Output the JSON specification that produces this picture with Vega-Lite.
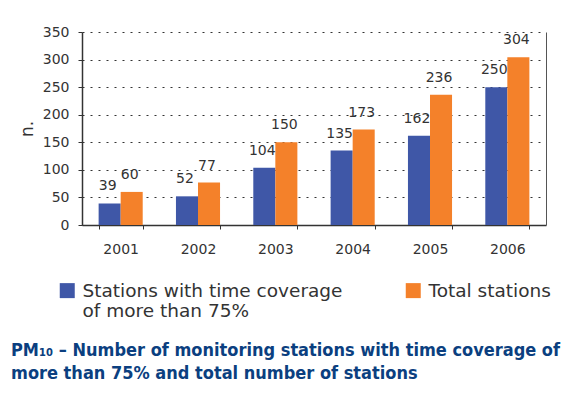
{
  "$schema": "https://vega.github.io/schema/vega-lite/v6.json",
  "width": 464,
  "height": 193,
  "autosize": {"type": "none"},
  "padding": {"left": 82, "top": 32, "right": 21, "bottom": 173},
  "background": "white",
  "config": {"view": {"stroke": null}, "font": "DejaVu Sans"},
  "data": {"values": [
    {"year": "2001", "series": "Stations with time coverage of more than 75%", "value": 39},
    {"year": "2001", "series": "Total stations", "value": 60},
    {"year": "2002", "series": "Stations with time coverage of more than 75%", "value": 52},
    {"year": "2002", "series": "Total stations", "value": 77},
    {"year": "2003", "series": "Stations with time coverage of more than 75%", "value": 104},
    {"year": "2003", "series": "Total stations", "value": 150},
    {"year": "2004", "series": "Stations with time coverage of more than 75%", "value": 135},
    {"year": "2004", "series": "Total stations", "value": 173},
    {"year": "2005", "series": "Stations with time coverage of more than 75%", "value": 162},
    {"year": "2005", "series": "Total stations", "value": 236},
    {"year": "2006", "series": "Stations with time coverage of more than 75%", "value": 250},
    {"year": "2006", "series": "Total stations", "value": 304}
  ]},
  "title": {
    "text": ["PM₁₀ – Number of monitoring stations with time coverage of", "more than 75% and total number of stations"],
    "orient": "bottom",
    "anchor": "start",
    "frame": "group",
    "font": "DejaVu Sans Condensed, Liberation Sans Narrow, Roboto Condensed, DejaVu Sans",
    "fontWeight": "bold",
    "fontSize": 18,
    "lineHeight": 23,
    "color": "#0B3F80",
    "dx": -71,
    "offset": 21
  },
  "encoding": {
    "x": {
      "field": "year", "type": "nominal",
      "scale": {"paddingInner": 0.43, "paddingOuter": 0.215},
      "axis": {"title": null, "labelAngle": 0, "tickBand": "extent", "tickSize": 4, "labelPadding": 13,
               "labelFontSize": 14, "labelColor": "#333", "domainColor": "#333", "domainWidth": 1.5,
               "tickColor": "#333", "grid": false}
    },
    "xOffset": {"field": "series", "type": "nominal",
      "scale": {"domain": ["Stations with time coverage of more than 75%", "Total stations"]}}
  },
  "layer": [
    {
      "mark": {"type": "bar"},
      "encoding": {
        "y": {
          "field": "value", "type": "quantitative",
          "scale": {"domain": [0, 350]},
          "axis": {"values": [0, 50, 100, 150, 200, 250, 300, 350], "title": "n.", "titleFontSize": 17,
                   "titleFontWeight": "normal", "titleColor": "#333", "titlePadding": 6,
                   "labelFontSize": 14, "labelColor": "#333", "tickSize": 4, "labelPadding": 9,
                   "domainColor": "#333", "domainWidth": 1.5, "tickColor": "#333",
                   "grid": true, "gridDash": [2, 6], "gridColor": "#333", "gridWidth": 1}
        },
        "color": {
          "field": "series", "type": "nominal",
          "scale": {"domain": ["Stations with time coverage of more than 75%", "Total stations"], "range": ["#3F57A7", "#F4812A"]},
          "legend": {
            "orient": "none", "legendX": -24, "legendY": 249, "direction": "horizontal", "columns": 2,
            "title": null, "padding": 0, "symbolType": "square", "symbolSize": 225, "symbolStrokeWidth": 0,
            "symbolOpacity": 1, "labelFont": "DejaVu Sans", "labelFontSize": 18.5, "labelColor": "#333",
            "labelLimit": 400, "labelOffset": 6, "columnPadding": 61, "labelBaseline": "middle",
            "labelExpr": "datum.label == 'Total stations' ? ['Total stations', ''] : ['Stations with time coverage', 'of more than  75%']"
          }
        }
      }
    },
    {
      "mark": {"type": "text", "dy": -13, "dx": -2, "baseline": "alphabetic", "fontSize": 14, "color": "#333"},
      "encoding": {
        "y": {
          "field": "value", "type": "quantitative",
          "scale": {"domain": [0, 350]},
          "axis": {"orient": "right", "labels": false, "ticks": false, "grid": false, "title": null,
                   "domainColor": "#555", "domainWidth": 1}
        },
        "text": {"field": "value", "type": "quantitative"}
      }
    }
  ],
  "resolve": {"axis": {"y": "independent"}}
}
